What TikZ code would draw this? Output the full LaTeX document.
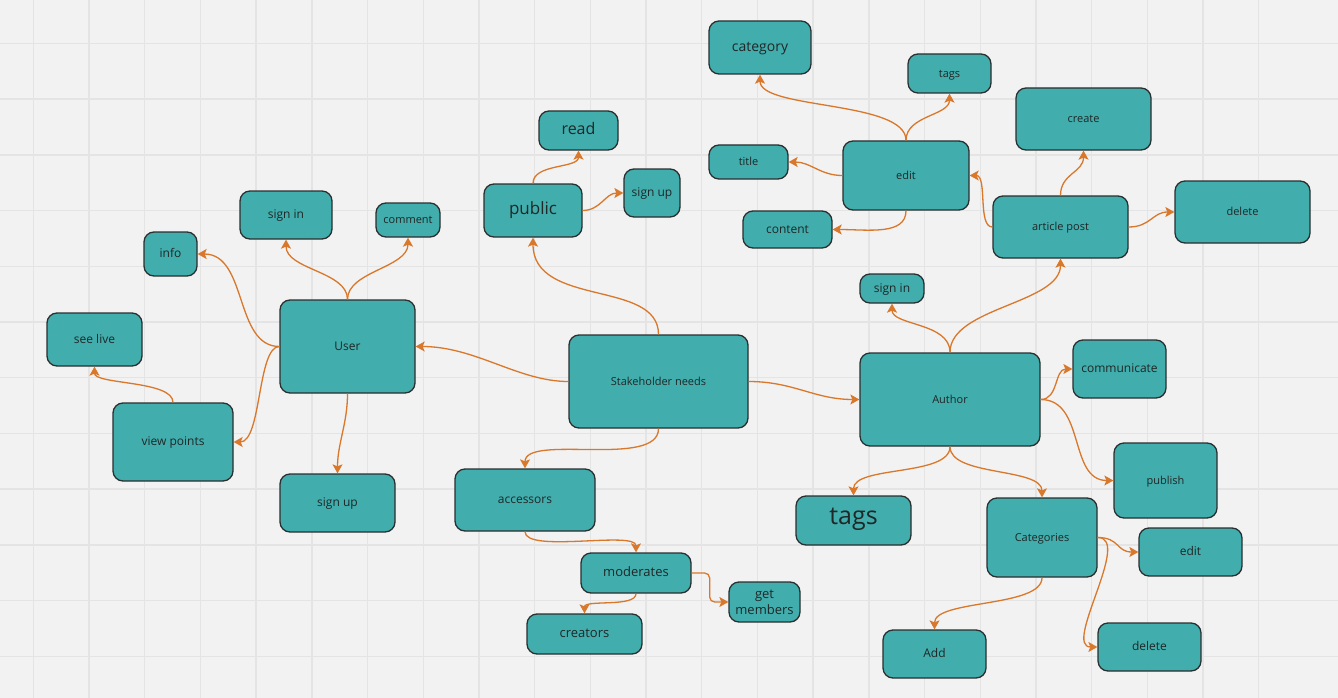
\documentclass[tikz,border=0pt]{standalone}
\usepackage{fontspec}
\setmainfont{Open Sans}
\usetikzlibrary{arrows.meta}
\definecolor{paper}{HTML}{F2F2F2}
\definecolor{gridline}{HTML}{E4E4E4}
\definecolor{teal}{HTML}{42ADAD}
\definecolor{rim}{HTML}{2A2F2F}
\definecolor{ink}{HTML}{1F2727}
\definecolor{wire}{HTML}{D9782A}
\newcommand{\Card}[8][oneline]{
  \node[card, #1, font=\fontsize{#7}{\fpeval{#7+3}}\selectfont,
    minimum width=\fpeval{#5-#3}pt, minimum height=\fpeval{#6-#4}pt]
    (#2) at (\fpeval{0.5*(#3+#5)},\fpeval{0.5*(#4+#6)}) {#8};
}

\begin{document}
\begin{tikzpicture}[x=1pt, y=-1pt,
  card/.style={draw=rim, fill=teal, text=ink, line width=1.3pt,
    rounded corners=10pt, inner sep=0pt, align=center},
  oneline/.style={text height=0.714em, text depth=0pt},
  link/.style={draw=wire, line width=1.3pt,
    -{Stealth[length=9pt, width=10pt, inset=2pt]}}]
  \fill[paper] (0,0) rectangle (1338,698);
  \useasboundingbox (0,0) rectangle (1338,698);
  \foreach \i in {0,...,22}
    \draw[gridline, line width=1.4pt] (\fpeval{33.3+55.7*\i},0) -- (\fpeval{33.3+55.7*\i},698);
  \foreach \j in {0,...,11}
    \draw[gridline, line width=1.4pt] (0,\fpeval{43.5+55.7*\j}) -- (1338,\fpeval{43.5+55.7*\j});

  \Card{stake}{569}{335}{748}{428}{11}{Stakeholder needs}
  \Card{user}{280}{300}{415}{393}{12}{User}
  \Card{author}{860}{353}{1040}{446}{11}{Author}
  \Card{public}{484}{184}{582}{237}{17}{public}
  \Card{read}{539}{111}{618}{150}{16}{read}
  \Card{signupP}{624}{169}{680}{217}{12}{sign up}
  \Card{signinU}{240}{191}{332}{239}{12}{sign in}
  \Card{comment}{376}{203}{440}{237}{11}{comment}
  \Card{info}{144}{232}{197}{276}{12}{info}
  \Card{seelive}{47}{313}{142}{366}{12}{see live}
  \Card{viewpts}{113}{403}{233}{481}{12}{view points}
  \Card{signupU}{280}{474}{395}{532}{12}{sign up}
  \Card{access}{455}{469}{595}{531}{12}{accessors}
  \Card{moder}{581}{553}{691}{593}{13}{moderates}
  \Card[]{getmem}{729}{582}{800}{622}{13}{get\\members}
  \Card{creat}{527}{614}{642}{654}{13}{creators}
  \Card{category}{709}{21}{811}{74}{14}{category}
  \Card{tagsT}{908}{54}{991}{93}{11}{tags}
  \Card{title}{709}{145}{788}{179}{11}{title}
  \Card{edit}{843}{141}{969}{210}{11}{edit}
  \Card{content}{743}{211}{832}{248}{12}{content}
  \Card{create}{1016}{88}{1151}{150}{11}{create}
  \Card{article}{993}{196}{1128}{258}{11}{article post}
  \Card{deleteT}{1175}{181}{1310}{243}{11}{delete}
  \Card{signinA}{860}{274}{924}{303}{12}{sign in}
  \Card{commun}{1073}{340}{1166}{398}{12}{communicate}
  \Card{publish}{1114}{443}{1217}{518}{11}{publish}
  \Card{tagsB}{796}{496}{911}{545}{25}{tags}
  \Card{categ}{987}{498}{1097}{577}{11}{Categories}
  \Card{editB}{1139}{528}{1242}{576}{12}{edit}
  \Card{add}{883}{630}{986}{678}{12}{Add}
  \Card{deleteB}{1098}{623}{1201}{671}{12}{delete}

  \draw[link] (stake.west) .. controls +(-50,0) and +(60,0) .. (user.east);
  \draw[link] (stake.east) .. controls +(45,0) and +(-45,0) .. (author.west);
  \draw[link] (stake.north) .. controls +(0,-55) and +(0,70) .. (public.south);
  \draw[link] (stake.south) .. controls +(0,40) and +(0,-35) .. (access.north);
  \draw[link] (user.north) .. controls +(0,-28) and +(0,30) .. (signinU.south);
  \draw[link] (user.north) .. controls +(0,-28) and +(0,30) .. (comment.south);
  \draw[link] (user.west) .. controls +(-45,0) and +(50,0) .. (info.east);
  \draw[link] (user.west) .. controls +(-22,0) and +(28,0) .. (viewpts.east);
  \draw[link] (user.south) .. controls +(0,30) and +(0,-30) .. (signupU.north);
  \draw[link] (viewpts.north) .. controls +(0,-22) and +(0,18) .. (seelive.south);
  \draw[link] (public.north) .. controls +(0,-20) and +(0,18) .. (read.south);
  \draw[link] (public.east) .. controls +(18,0) and +(-18,0) .. (signupP.west);
  \draw[link] (edit.north) .. controls +(0,-40) and +(0,35) .. (category.south);
  \draw[link] (edit.north) .. controls +(0,-25) and +(0,22) .. (tagsT.south);
  \draw[link] (edit.west) .. controls +(-22,0) and +(22,0) .. (title.east);
  \draw[link] (edit.south) .. controls +(0,25) and +(35,0) .. (content.east);
  \draw[link] (article.west) .. controls +(-15,0) and +(18,0) .. (edit.east);
  \draw[link] (article.north) .. controls +(0,-22) and +(0,22) .. (create.south);
  \draw[link] (article.east) .. controls +(22,0) and +(-22,0) .. (deleteT.west);
  \draw[link] (author.north) .. controls +(0,-30) and +(0,22) .. (signinA.south);
  \draw[link] (author.north) .. controls +(0,-45) and +(0,45) .. (article.south);
  \draw[link] (author.east) .. controls +(18,0) and +(-18,0) .. (commun.west);
  \draw[link] (author.east) .. controls +(45,0) and +(-45,0) .. (publish.west);
  \draw[link] (author.south) .. controls +(0,30) and +(0,-30) .. (tagsB.north);
  \draw[link] (author.south) .. controls +(0,30) and +(0,-30) .. (categ.north);
  \draw[link] (categ.east) .. controls +(22,0) and +(-22,0) .. (editB.west);
  \draw[link] (categ.east) .. controls +(35,0) and +(-35,0) .. (deleteB.west);
  \draw[link] (categ.south) .. controls +(0,30) and +(0,-30) .. (add.north);
  \draw[link] (access.south) .. controls +(0,22) and +(0,-22) .. (moder.north);
  \draw[link] (moder.south) .. controls +(0,14) and +(0,-14) .. (creat.north);
  \draw[link, rounded corners=5pt] (moder.east) -- ++(18,0) |- (getmem.west);
\end{tikzpicture}
\end{document}
